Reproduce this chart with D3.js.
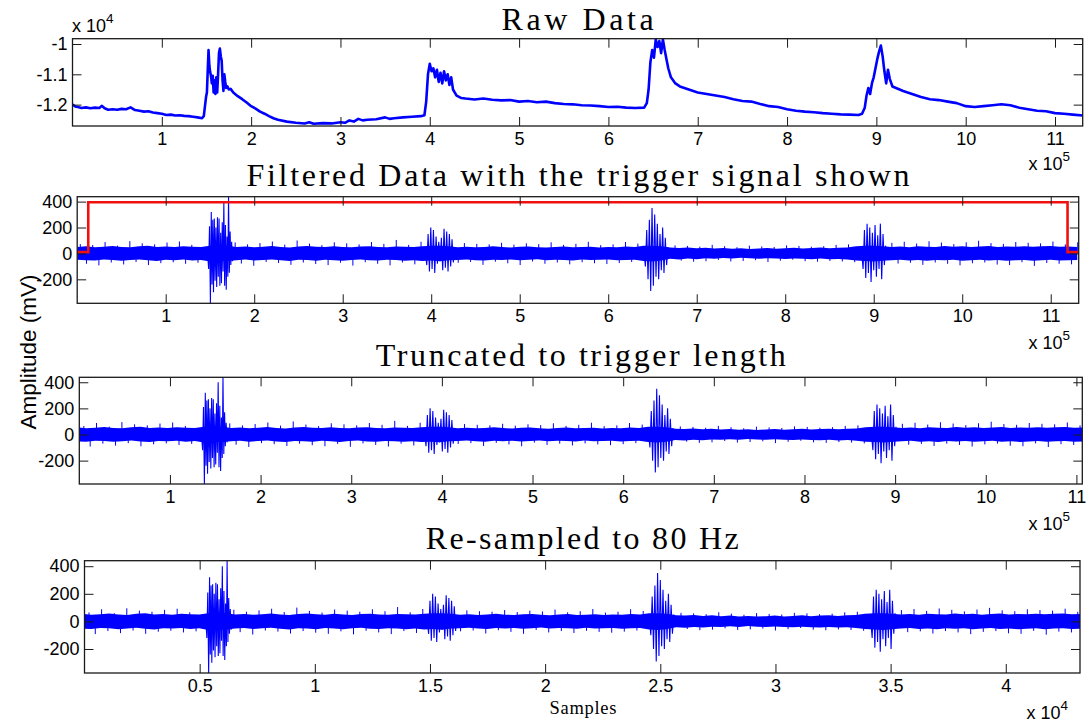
<!DOCTYPE html>
<html>
<head>
<meta charset="utf-8">
<script src="https://cdn.jsdelivr.net/npm/d3@7"></script>
<style>
  html, body { margin: 0; padding: 0; background: #fff; }
  svg { display: block; }
</style>
</head>
<body>
<svg id="fig" width="1090" height="725"></svg>
<script>
// ---------------------------------------------------------------
// Raw recording: [sample index, amplitude]
// ---------------------------------------------------------------
const rawTrace = [
  [0,-12000],[3000,-12060],[6000,-12080],[10000,-12110],[15000,-12090],[20000,-12120],
  [25000,-12100],[30000,-12110],[33000,-12040],[36000,-12120],[40000,-12170],[45000,-12150],
  [50000,-12170],[55000,-12140],[60000,-12150],[65000,-12090],[70000,-12180],[75000,-12200],
  [80000,-12230],[85000,-12220],[90000,-12260],[95000,-12280],[100000,-12300],[105000,-12340],
  [110000,-12330],[115000,-12360],[120000,-12350],[125000,-12370],[130000,-12380],[135000,-12400],
  [140000,-12420],[145000,-12450],[147000,-12380],[148500,-12000],[149500,-11750],[150500,-11600],
  [151500,-10800],[152300,-10200],[153200,-10700],[154000,-10900],[155000,-11050],[156000,-11300],
  [157000,-11050],[158000,-11600],[159000,-11200],[160000,-11650],[161000,-11100],[162000,-11600],
  [163000,-11000],[164000,-10300],[165000,-10150],[166000,-10400],[167000,-10550],[168000,-11200],
  [169000,-11550],[170000,-11000],[171000,-11250],[172000,-11450],[173500,-11400],[175000,-11500],
  [177000,-11480],[180000,-11600],[185000,-11720],[190000,-11820],[195000,-11930],[200000,-12050],
  [205000,-12130],[210000,-12230],[215000,-12300],[220000,-12380],[225000,-12450],[230000,-12500],
  [240000,-12560],[250000,-12600],[260000,-12620],[265000,-12580],[270000,-12630],[280000,-12610],
  [290000,-12620],[300000,-12580],[305000,-12600],[310000,-12520],[315000,-12560],[320000,-12470],
  [325000,-12520],[330000,-12500],[340000,-12480],[350000,-12420],[355000,-12470],[360000,-12450],
  [370000,-12420],[380000,-12400],[390000,-12380],[394000,-12350],[396000,-11900],[398000,-11000],
  [400000,-10650],[402000,-10900],[404000,-10800],[406000,-11100],[408000,-10850],[410000,-11250],
  [412000,-10950],[414000,-11300],[416000,-10900],[418000,-11200],[420000,-11000],[422000,-11350],
  [424000,-11100],[426000,-11500],[430000,-11700],[435000,-11780],[440000,-11800],[450000,-11830],
  [460000,-11800],[470000,-11840],[480000,-11860],[490000,-11850],[500000,-11900],[510000,-11880],
  [520000,-11920],[530000,-11900],[540000,-11950],[550000,-11980],[560000,-11990],[570000,-12020],
  [580000,-12030],[590000,-12050],[600000,-12080],[610000,-12070],[620000,-12100],[630000,-12110],
  [640000,-12100],[643000,-11950],[645000,-11500],[647000,-10600],[649000,-10200],[651000,-10450],
  [653000,-9850],[655000,-10100],[657000,-9900],[659000,-10300],[661000,-9850],[663000,-10200],
  [665000,-10500],[667000,-10800],[670000,-11100],[675000,-11300],[680000,-11400],[690000,-11500],
  [700000,-11600],[710000,-11650],[720000,-11700],[730000,-11750],[740000,-11820],[750000,-11880],
  [760000,-11900],[770000,-11980],[780000,-12050],[790000,-12080],[800000,-12150],[810000,-12200],
  [820000,-12230],[830000,-12250],[840000,-12280],[850000,-12300],[860000,-12320],[870000,-12330],
  [880000,-12340],[884000,-12300],[887000,-12100],[889000,-11700],[891000,-11450],[893000,-11650],
  [895000,-11300],[897000,-11100],[899000,-10800],[901000,-10500],[903000,-10250],[905000,-10050],
  [907000,-10400],[909000,-10900],[911000,-11300],[913000,-10850],[915000,-11150],[918000,-11400],
  [922000,-11450],[930000,-11550],[940000,-11650],[950000,-11750],[960000,-11820],[970000,-11850],
  [980000,-11900],[990000,-11950],[1000000,-12050],[1010000,-12080],[1020000,-12050],[1030000,-12020],
  [1040000,-11990],[1050000,-12020],[1060000,-12100],[1070000,-12150],[1080000,-12200],[1090000,-12220],
  [1100000,-12280],[1110000,-12300],[1120000,-12330],[1131000,-12360]
];

// ---------------------------------------------------------------
// Filtered recording
// ---------------------------------------------------------------
// Dense noise band: upper / lower envelope per 10 000-sample bin
const envBinSize = 10000;
const envUpper = [
  50, 55, 48, 52, 58, 50, 47, 55, 60, 50, 53, 49, 56, 52, 50,
  60, 65, 60,
  50, 54, 48, 52, 57, 50, 46, 53, 58, 51, 49, 55, 50, 47, 53, 56, 50, 48, 54, 52, 50,
  55, 60, 60, 55,
  48, 52, 47, 50, 55, 49, 46, 51, 54, 48, 45, 50, 53, 47, 49, 52, 46, 50, 48, 53, 50,
  60, 60, 55,
  45, 42, 46, 40, 44, 38, 42, 36, 40, 35, 38, 42, 36, 40, 44, 38, 42, 45, 40, 44, 46,
  55, 60, 60, 55,
  50, 54, 48, 56, 52, 50, 58, 51, 55, 49, 53, 57, 50, 54, 52, 56, 51, 55, 58, 52, 54, 50
];
const envLower = [
  -48, -52, -55, -47, -50, -56, -51, -46, -53, -58, -49, -52, -47, -55, -50,
  -62, -60, -58,
  -52, -47, -55, -50, -46, -53, -58, -49, -51, -56, -48, -52, -57, -50, -46, -53, -55, -49, -51, -56, -52,
  -58, -55, -60, -52,
  -50, -46, -52, -55, -48, -51, -47, -53, -49, -45, -52, -48, -50, -54, -46, -51, -49, -47, -53, -50, -48,
  -58, -62, -55,
  -42, -46, -40, -44, -38, -41, -36, -40, -34, -38, -41, -37, -40, -43, -39, -42, -44, -40, -45, -43, -47,
  -55, -58, -62, -56,
  -52, -48, -55, -51, -57, -50, -53, -49, -56, -52, -48, -55, -51, -57, -53, -50, -56, -52, -49, -55, -53, -51
];
// Isolated noise spikes, one per 7 000-sample slot (0 = none)
const spikeSlotSize = 7000;
const spikeHeights = [
  72, -80, 65, -92, 88, -70, 60, -85, 95, -66, 78, -90, 70, -75, 84, -68, 92, -80, 66, -72,
  0, 0, 0, 0, 0,
  85, -78, 70, -95, 80, -66, 92, -74, 68, -88, 100, -70, 76, -82, 64, -90, 86, -72, 78, -94,
  70, -68, 88, -80, 74, -92, 104, -70, 66, -84, 90,
  0, 0, 0, 0, 0,
  -72, 80, -66, 74, -88, 70, -64, 82, -76, 68, -90, 78, -62, 72, -80, 86, -70, 66, -84, 74,
  -68, 90, -76, 64, -82, 70, -74, 88, -66, 76,
  0, 0, 0, 0, 0,
  62, -55, 58, -64, 52, -60, 66, -50, 56, -62, 48, -58, 60, -52, 54, -66, 50, -56, 62, -48,
  58, -60, 52, -64, 56, -58, 66, -62, 70, -68,
  0, 0, 0, 0, 0,
  82, -78, 90, -72, 76, -88, 94, -70, 84, -80, 72, -92, 86, -76, 98, -70, 80, -86, 74, -90,
  88, -68, 82, -96, 78, -74, 92, -80, 70, -84, 86
];
// Bursts: [sample index, amplitude]
const burst1 = [
  [147000, 40], [148500, -120], [149500, 210], [150500, -385], [151500, 320], [152300, -240],
  [153200, 260], [154000, -300], [154900, 270], [155800, -210], [156700, 200], [157600, -260],
  [158500, 280], [159400, -180], [160300, 270], [161200, -250], [162100, 160], [163000, -230],
  [163900, 240], [164800, -140], [165700, 400], [166600, -250], [167500, 220], [168400, -280],
  [169300, 130], [170200, -180], [171000, 440], [171900, -150], [172800, 170], [173600, -90],
  [174500, 90], [175500, -60], [176500, 30]
];
const burst2 = [
  [393000, 30], [395000, -90], [396500, 150], [398000, -140], [399500, 200], [401000, -120],
  [402500, 180], [404000, -150], [405500, 130], [407000, -80], [408500, 90], [410000, -60],
  [411500, 120], [413000, -130], [414500, 190], [416000, -110], [417500, 170], [419000, -140],
  [420500, 150], [422000, -100], [423500, 110], [425000, -70], [426500, 40]
];
const burst3 = [
  [640000, 40], [642000, -100], [643500, 180], [645000, -200], [646500, 260], [648000, -290],
  [649500, 350], [651000, -250], [652500, 300], [654000, -180], [655500, 230], [657000, -200],
  [658500, 150], [660000, -130], [661500, 200], [663000, -150], [664500, 120], [666000, -90],
  [667500, 50]
];
const burst4 = [
  [886000, 30], [888000, -120], [889500, 180], [891000, -190], [892500, 230], [894000, -150],
  [895500, 200], [897000, -220], [898500, 160], [900000, -130], [901500, 220], [903000, -180],
  [904500, 140], [906000, -120], [907500, 230], [909000, -200], [910500, 150], [912000, -90],
  [913500, 60]
];

// Trigger signal
const triggerSamples = [0, 12500, 12500, 1119000, 1119000, 1131600];
const triggerLevels  = [10, 10, 395, 395, 10, 10];

// Processing parameters
const filtLength = 1131600;
const truncStart = 12500, truncEnd = 1119000;
const fsIn = 2048, fsOut = 80;

// Tick values
const rawXTicks = [1, 2, 3, 4, 5, 6, 7, 8, 9, 10, 11].map(v => v * 1e5);
const rawYTicks = [-12000, -11000, -10000];
const ampYTicks = [-200, 0, 200, 400];
const resXTicks = [0.5, 1, 1.5, 2, 2.5, 3, 3.5, 4].map(v => v * 1e4);

// Titles
const titles = [
  "Raw Data",
  "Filtered Data with the trigger signal shown",
  "Truncated to trigger length",
  "Re-sampled to 80 Hz"
];

// ---------------------------------------------------------------
const svg = d3.select("#fig");
const BLUE = "#0000ff", RED = "#f01010", AXIS = "#1a1a1a";
const TICK_FONT = "'Liberation Sans', Arial, sans-serif";
const SERIF = "'Liberation Serif', 'Times New Roman', serif";
const TICK_LEN = 9;
const TICK_SIZE = 18;

const defs = svg.append("defs");

function makePanel(cfg) {
  const x = d3.scaleLinear().domain(cfg.xDomain).range([cfg.left, cfg.right]);
  const y = d3.scaleLinear().domain(cfg.yDomain).range([cfg.bottom, cfg.top]);
  const g = svg.append("g");
  const clipId = "clip-" + cfg.id;
  defs.append("clipPath").attr("id", clipId).append("rect")
    .attr("x", cfg.left).attr("y", cfg.top)
    .attr("width", cfg.right - cfg.left).attr("height", cfg.bottom - cfg.top);
  const plot = g.append("g").attr("clip-path", `url(#${clipId})`);

  g.append("text")
    .attr("x", (cfg.left + cfg.right) / 2).attr("y", cfg.titleY)
    .attr("text-anchor", "middle")
    .attr("font-family", SERIF).attr("font-size", 32)
    .attr("textLength", cfg.titleWidth).attr("lengthAdjust", "spacing")
    .attr("fill", "#000").text(cfg.title);

  return { x, y, g, plot, cfg };
}

function drawAxes(p, xTicks, xFmt, yTicks, yFmt) {
  const { x, y, g, cfg } = p;
  const styleAxis = sel => {
    sel.select(".domain").remove();
    sel.selectAll(".tick line").attr("stroke", AXIS).attr("stroke-width", 1);
    sel.selectAll(".tick text")
      .attr("font-family", TICK_FONT).attr("font-size", TICK_SIZE).attr("fill", "#000");
  };
  g.append("g").attr("transform", `translate(0,${cfg.bottom})`)
    .call(d3.axisBottom(x).tickValues(xTicks).tickFormat(xFmt).tickSize(-TICK_LEN))
    .call(styleAxis)
    .selectAll(".tick text").attr("dy", "0.71em").attr("y", 6);
  g.append("g").attr("transform", `translate(0,${cfg.top})`)
    .call(d3.axisTop(x).tickValues(xTicks).tickFormat("").tickSize(-TICK_LEN))
    .call(styleAxis);
  g.append("g").attr("transform", `translate(${cfg.left},0)`)
    .call(d3.axisLeft(y).tickValues(yTicks).tickFormat(yFmt).tickSize(-TICK_LEN))
    .call(styleAxis)
    .selectAll(".tick text").attr("x", -5);
  g.append("g").attr("transform", `translate(${cfg.right},0)`)
    .call(d3.axisRight(y).tickValues(yTicks).tickFormat("").tickSize(-TICK_LEN))
    .call(styleAxis);
  g.append("rect")
    .attr("x", cfg.left).attr("y", cfg.top)
    .attr("width", cfg.right - cfg.left).attr("height", cfg.bottom - cfg.top)
    .attr("fill", "none").attr("stroke", AXIS).attr("stroke-width", 1.3);
}

function exponentLabel(xPos, yPos, exp, anchor) {
  const t = svg.append("text")
    .attr("x", xPos).attr("y", yPos)
    .attr("text-anchor", anchor)
    .attr("font-family", TICK_FONT).attr("font-size", TICK_SIZE).attr("fill", "#000");
  t.append("tspan").text("x 10");
  t.append("tspan").attr("font-size", 13.5).attr("dy", -9).text(exp);
}

// Filtered signal (noise band, spikes, bursts) under a sample-index mapping
function drawFiltered(p, mapS, lo, hi) {
  const { x, y, plot } = p;
  const inRange = s => s >= lo && s <= hi;
  const env = envUpper.map((u, i) => ({ s: i * envBinSize, hi: u, lo: envLower[i] }))
    .filter(d => inRange(d.s));
  plot.append("path")
    .datum(env)
    .attr("fill", BLUE).attr("stroke", "none")
    .attr("d", d3.area().x(d => x(mapS(d.s))).y0(d => y(d.lo)).y1(d => y(d.hi)));
  const spikes = spikeHeights
    .map((v, i) => [spikeSlotSize / 2 + i * spikeSlotSize, v])
    .filter(d => d[1] !== 0 && inRange(d[0]));
  plot.append("g").selectAll("line")
    .data(spikes)
    .join("line")
    .attr("x1", d => x(mapS(d[0]))).attr("x2", d => x(mapS(d[0])))
    .attr("y1", y(0)).attr("y2", d => y(d[1]))
    .attr("stroke", BLUE).attr("stroke-width", 1);
  const line = d3.line().x(d => x(mapS(d[0]))).y(d => y(d[1]));
  [burst1, burst2, burst3, burst4].forEach(b => {
    plot.append("path").datum(b.filter(d => inRange(d[0])))
      .attr("fill", "none").attr("stroke", BLUE).attr("stroke-width", 1.1)
      .attr("d", line);
  });
}

// ---- Panel 1: raw data ----
const p1 = makePanel({
  id: "raw", left: 72.5, right: 1082.7, top: 38.7, bottom: 126,
  xDomain: [0, 1131000], yDomain: [-12705, -9825],
  title: titles[0], titleWidth: 152, titleY: 30
});
p1.plot.append("path")
  .datum(rawTrace)
  .attr("fill", "none").attr("stroke", BLUE).attr("stroke-width", 2.6)
  .attr("stroke-linejoin", "round")
  .attr("d", d3.line().x(d => p1.x(d[0])).y(d => p1.y(d[1])));
drawAxes(p1, rawXTicks, d => d / 1e5, rawYTicks, d => d / 1e4);
exponentLabel(72, 32, "4", "start");
exponentLabel(1070, 170, "5", "end");

// ---- Panel 2: filtered data + trigger ----
const p2 = makePanel({
  id: "filt", left: 77.2, right: 1078.7, top: 196.7, bottom: 303.3,
  xDomain: [0, filtLength], yDomain: [-385, 438],
  title: titles[1], titleWidth: 663, titleY: 186
});
drawFiltered(p2, s => s, 0, filtLength);
p2.plot.append("path")
  .datum(triggerSamples.map((s, i) => [s, triggerLevels[i]]))
  .attr("fill", "none").attr("stroke", RED).attr("stroke-width", 2.6)
  .attr("d", d3.line().x(d => p2.x(d[0])).y(d => p2.y(d[1])));
drawAxes(p2, rawXTicks, d => d / 1e5, ampYTicks, d => d);
exponentLabel(1070, 349, "5", "end");

// ---- Panel 3: truncated ----
const truncLen = truncEnd - truncStart;
const p3 = makePanel({
  id: "trunc", left: 79.3, right: 1082.3, top: 377.3, bottom: 484,
  xDomain: [0, truncLen], yDomain: [-379, 438],
  title: titles[2], titleWidth: 410, titleY: 366
});
drawFiltered(p3, s => s - truncStart, truncStart - envBinSize, truncEnd + envBinSize);
drawAxes(p3, rawXTicks, d => d / 1e5, ampYTicks, d => d);
exponentLabel(1070, 530, "5", "end");

// ---- Panel 4: re-sampled ----
const ratio = fsOut / fsIn;
const p4 = makePanel({
  id: "res", left: 84.5, right: 1080, top: 560.7, bottom: 673,
  xDomain: [0, truncLen * ratio], yDomain: [-374, 440],
  title: titles[3], titleWidth: 313, titleY: 549
});
drawFiltered(p4, s => (s - truncStart) * ratio, truncStart - envBinSize, truncEnd + envBinSize);
drawAxes(p4, resXTicks, d => d / 1e4, ampYTicks, d => d);
exponentLabel(1068, 719, "4", "end");

// Shared axis labels
svg.append("text")
  .attr("transform", "translate(36,352) rotate(-90)")
  .attr("text-anchor", "middle")
  .attr("font-family", TICK_FONT).attr("font-size", 22.5).attr("fill", "#000")
  .text("Amplitude (mV)");
svg.append("text")
  .attr("x", 583).attr("y", 714)
  .attr("text-anchor", "middle")
  .attr("font-family", SERIF).attr("font-size", 18.5)
  .attr("textLength", 67).attr("lengthAdjust", "spacing")
  .attr("fill", "#000")
  .text("Samples");
</script>
</body>
</html>
